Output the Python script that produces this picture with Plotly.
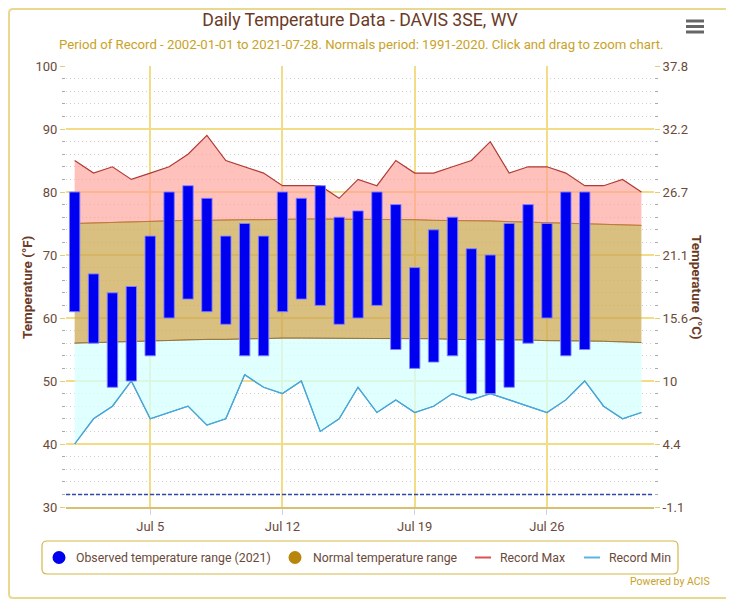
import plotly.graph_objects as go

# July 2021, DAVIS 3SE, WV
days = [f"2021-07-{d:02d}" for d in range(1, 32)]
obs_days = days[:28]

obs_max = [80, 67, 64, 65, 73, 80, 81, 79, 73, 75, 73, 80, 79, 81, 76, 77, 80, 78, 68, 74, 76, 71, 70, 75, 78, 75, 80, 80]
obs_min = [61, 56, 49, 50, 54, 60, 63, 61, 59, 54, 54, 61, 63, 62, 59, 60, 62, 55, 52, 53, 54, 48, 48, 49, 56, 60, 54, 55]

record_max = [85, 83, 84, 82, 83, 84, 86, 89, 85, 84, 83, 81, 81, 81, 79, 82,
              81, 85, 83, 83, 84, 85, 88, 83, 84, 84, 83, 81, 81, 82, 80]
record_min = [40, 44, 46, 50, 44, 45, 46, 43, 44, 51, 49, 48, 50, 42, 44, 49,
              45, 47, 45, 46, 48, 47, 48, 47, 46, 45, 47, 50, 46, 44, 45]

normal_high = [75.0, 75.1, 75.2, 75.3, 75.3, 75.4, 75.5, 75.5, 75.6, 75.6, 75.6, 75.7, 75.7, 75.7, 75.7, 75.7,
               75.6, 75.6, 75.6, 75.5, 75.5, 75.4, 75.4, 75.3, 75.2, 75.2, 75.1, 75.0, 74.9, 74.8, 74.7]
normal_low = [56.0, 56.1, 56.2, 56.3, 56.4, 56.5, 56.5, 56.6, 56.6, 56.7, 56.7, 56.8, 56.8, 56.8, 56.8, 56.8,
              56.8, 56.7, 56.7, 56.7, 56.6, 56.6, 56.6, 56.5, 56.5, 56.4, 56.4, 56.3, 56.3, 56.2, 56.1]

f_ticks = [30, 40, 50, 60, 70, 80, 90, 100]
c_ticks = ["-1.1", "4.4", "10", "15.6", "21.1", "26.7", "32.2", "37.8"]
x_ticks = ["2021-07-05", "2021-07-12", "2021-07-19", "2021-07-26"]
freezing = 32

legend_names = ["Observed temperature range (2021)", "Normal temperature range", "Record Max", "Record Min"]
legend_colors = ["#0000f0", "#b8860b", "#d9534f", "#5bb5e0"]

brown = "#6b4a3a"
gold = "#f2dc86"
font = "Roboto"

# page body adds an 8px offset, so the figure is a bit smaller than the window
W, H = 726, 594
L, T, PW, PH = 58, 58, 588, 441


# screen pixel (in the 734x602 window) -> paper coordinates
def px(sx):
    return (sx - 8 - L) / PW


def py(sy):
    return (T + PH - (sy - 8)) / PH


def rounded_rect(x0, y0, x1, y1, r):
    return (f"M {px(x0 + r)} {py(y0)} L {px(x1 - r)} {py(y0)} Q {px(x1)} {py(y0)} {px(x1)} {py(y0 + r)} "
            f"L {px(x1)} {py(y1 - r)} Q {px(x1)} {py(y1)} {px(x1 - r)} {py(y1)} "
            f"L {px(x0 + r)} {py(y1)} Q {px(x0)} {py(y1)} {px(x0)} {py(y1 - r)} "
            f"L {px(x0)} {py(y0 + r)} Q {px(x0)} {py(y0)} {px(x0 + r)} {py(y0)} Z")


def label(text, sx, sy, size, color, angle=0, anchor="center"):
    fig.add_annotation(text=text, xref="paper", yref="paper", x=px(sx), y=py(sy),
                       xanchor=anchor, yanchor="middle", textangle=angle, showarrow=False,
                       font=dict(size=size, color=color))


fig = go.Figure()

# shaded bands: record max / normal / record min
fig.add_trace(go.Scatter(x=days, y=normal_high, mode="lines",
                         line=dict(color="rgba(190,120,60,0.9)", width=1), hoverinfo="skip"))
fig.add_trace(go.Scatter(x=days, y=record_max, mode="lines", fill="tonexty",
                         fillcolor="rgba(255,160,150,0.65)",
                         line=dict(color="#b03a34", width=1.2), name="Record Max"))
fig.add_trace(go.Scatter(x=days, y=normal_low, mode="lines",
                         line=dict(color="rgba(150,110,50,0.9)", width=1), hoverinfo="skip"))
fig.add_trace(go.Scatter(x=days, y=normal_high, mode="lines", fill="tonexty",
                         fillcolor="rgba(204,170,86,0.75)",
                         line=dict(color="rgba(190,120,60,0.9)", width=1), name="Normal High"))
fig.add_trace(go.Scatter(x=days, y=record_min, mode="lines",
                         line=dict(color="#4aa6d6", width=1.2), hoverinfo="skip"))
fig.add_trace(go.Scatter(x=days, y=normal_low, mode="lines", fill="tonexty",
                         fillcolor="rgba(214,255,255,0.75)",
                         line=dict(color="rgba(150,110,50,0.9)", width=1), name="Normal Low"))
fig.add_trace(go.Scatter(x=days, y=record_min, mode="lines",
                         line=dict(color="#4aa6d6", width=1.2), name="Record Min"))

# observed range bars on the overlaying (right) axis so they sit above the bands
fig.add_trace(go.Bar(x=obs_days, y=[hi - lo for hi, lo in zip(obs_max, obs_min)], base=obs_min,
                     width=0.55 * 86400000, yaxis="y2", name="Observed",
                     marker=dict(color="#0000f0", line=dict(color="rgba(130,130,255,0.9)", width=1))))

fig.add_hline(y=freezing, line=dict(color="#3347a8", width=1.5, dash="4px,2px"))

fig.update_layout(
    width=W, height=H,
    margin=dict(l=L, r=W - L - PW, t=T, b=H - T - PH, autoexpand=False),
    paper_bgcolor="white", plot_bgcolor="white",
    font=dict(family=font, color=brown, size=12),
    showlegend=False,
    title=dict(text="Daily Temperature Data - DAVIS 3SE, WV", xref="paper", x=0.5, xanchor="center",
               yref="container", y=1 - 12 / H, yanchor="middle", font=dict(size=17.7, color="#6b3a26")),
    xaxis=dict(type="date", range=["2021-06-30 13:00", "2021-07-31 16:00"],
               tickvals=x_ticks, tickformat="%b %-d",
               showgrid=True, gridcolor=gold, gridwidth=1.5,
               showline=True, linecolor="#d8c070", linewidth=2,
               ticks="outside", ticklen=6, tickcolor="#ccd6eb",
               tickfont=dict(size=13, color=brown), zeroline=False),
    yaxis=dict(range=[30, 100], tickvals=f_ticks, showgrid=True, gridcolor=gold, gridwidth=1.5,
               zeroline=False, ticks="outside", ticklen=5, tickcolor="#e6cc70",
               tickfont=dict(size=13, color=brown),
               minor=dict(dtick=2, showgrid=True, griddash="1px,3px", gridcolor="#d0d0d0", gridwidth=1,
                          ticks="outside", ticklen=3, tickcolor="#aaaaaa")),
    yaxis2=dict(range=[30, 100], overlaying="y", side="right", tickvals=f_ticks, ticktext=c_ticks,
                showgrid=False, zeroline=False, ticks="outside", ticklen=5, tickcolor="#e6cc70",
                tickfont=dict(size=13, color=brown),
                minor=dict(dtick=2, ticks="outside", ticklen=3, tickcolor="#aaaaaa")),
)

label("Period of Record - 2002-01-01 to 2021-07-28. Normals period: 1991-2020. Click and drag to zoom chart.",
      361.5, 45, 13.2, "#c9a227")
label("<b>Temperature (°F)</b>", 27, 288, 13.5, "#6b3a26", angle=-90)
label("<b>Temperature (°C)</b>", 697, 287, 13.5, "#6b3a26", angle=90)
label("Powered by ACIS", 712, 581, 10.5, "#c9a227", anchor="right")

# hand-drawn legend box
fig.add_shape(type="path", xref="paper", yref="paper", path=rounded_rect(42, 541, 678, 574, 5),
              line=dict(color="#d4b84a", width=1.2), fillcolor="white", layer="above")
legend_sym_x = [59, 295, 483, 592]
legend_text_x = [74, 311, 498, 607]
for name, color, sx, tx in zip(legend_names, legend_colors, legend_sym_x, legend_text_x):
    if "Record" in name:
        fig.add_shape(type="line", xref="paper", yref="paper", x0=px(sx - 8), x1=px(sx + 8),
                      y0=py(557.5), y1=py(557.5), line=dict(color=color, width=2))
    else:
        fig.add_shape(type="circle", xref="paper", yref="paper", x0=px(sx - 6.5), x1=px(sx + 6.5),
                      y0=py(557.5 + 6.5), y1=py(557.5 - 6.5), fillcolor=color, line=dict(width=0))
    label(name, tx, 557.5, 12.3, brown, anchor="left")

# outer border and menu icon
fig.add_shape(type="path", xref="paper", yref="paper", path=rounded_rect(9, 9, 730, 598, 4),
              line=dict(color="#e8d890", width=2))
for sy in [21, 26.5, 32]:
    fig.add_shape(type="line", xref="paper", yref="paper", x0=px(686), x1=px(704), y0=py(sy), y1=py(sy),
                  line=dict(color="#666666", width=3))

fig.write_html("out.html")
